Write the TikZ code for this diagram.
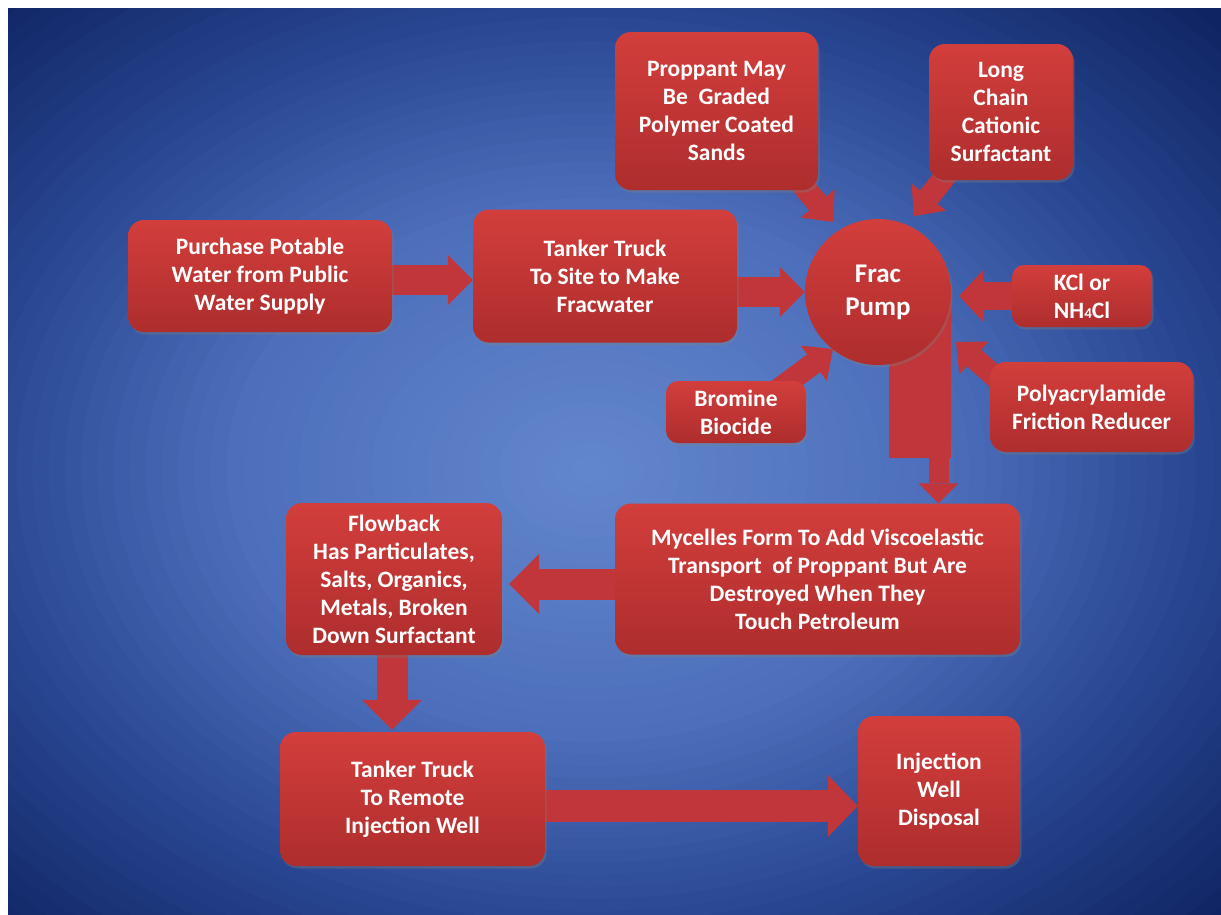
\documentclass[tikz,border=0pt]{standalone}
\usepackage{fontspec}
\setmainfont{Carlito}
\usetikzlibrary{arrows.meta,shadows,calc}
\definecolor{bgc0}{HTML}{6387CE}
\definecolor{bgc1}{HTML}{4D6FBB}
\definecolor{bgc2}{HTML}{2A4894}
\definecolor{bgc3}{HTML}{0F2462}
\definecolor{boxtop}{HTML}{D23E3C}
\definecolor{boxbot}{HTML}{AE2D2D}
\definecolor{arrred}{HTML}{C0363A}
\pgfdeclarelayer{bg}
\pgfdeclarelayer{arr}
\pgfsetlayers{bg,arr,main}
\tikzset{
  box/.style={rounded corners=16pt, top color=boxtop, bottom color=boxbot, draw=none,
    text=white, align=center, font=\fontsize{23.5}{28}\selectfont\bfseries, inner sep=0pt,
    drop shadow={shadow xshift=1.5pt, shadow yshift=-2.5pt, opacity=0.35}},
  blk/.style n args={3}{draw=arrred, line width=#1, -{Triangle[length=#3, width=#2, line width=0pt]}},
  harrow/.style={blk={30pt}{50pt}{25pt}},
  barrow/.style={blk={31pt}{60pt}{30pt}},
  darrow/.style={blk={22pt}{44pt}{24pt}},
  parrow/.style={blk={20pt}{40pt}{20pt}}
}
\begin{document}
\begin{tikzpicture}[x=1pt,y=-1pt]
\begin{pgfonlayer}{bg}
\fill[white] (0,0) rectangle (1221,914);
\begin{scope}
\clip (8,8) rectangle (1221,914);
\fill[bgc3] (8,8) rectangle (1221,914);
\foreach \k in {0,...,14}{
  \pgfmathsetmacro{\rr}{1.45-0.45*\k/15}
  \pgfmathtruncatemacro{\pp}{100*\k/15}
  \fill[bgc2!\pp!bgc3] (590,470) ellipse [x radius=606*\rr, y radius=453*\rr];
}
\foreach \k in {0,...,14}{
  \pgfmathsetmacro{\rr}{1.0-0.4*\k/15}
  \pgfmathtruncatemacro{\pp}{100*\k/15}
  \fill[bgc1!\pp!bgc2] (590,470) ellipse [x radius=606*\rr, y radius=453*\rr];
}
\foreach \k in {0,...,19}{
  \pgfmathsetmacro{\rr}{0.6-0.6*\k/20}
  \pgfmathtruncatemacro{\pp}{100*\k/20}
  \fill[bgc0!\pp!bgc1] (590,470) ellipse [x radius=606*\rr, y radius=453*\rr];
}
\end{scope}
\end{pgfonlayer}
\useasboundingbox (0,0) rectangle (1221,914);

\node[box, minimum width=264pt, minimum height=112pt] (n1) at (260,276) {Purchase Potable\\Water from Public\\Water Supply};
\node[box, minimum width=264pt, minimum height=133pt] (n2) at (605,276) {Tanker Truck\\To Site to Make\\Fracwater};
\node[box, minimum width=203pt, minimum height=158pt] (n3) at (716.5,111) {Proppant May\\Be\ \ Graded\\Polymer Coated\\Sands};
\node[box, minimum width=144pt, minimum height=136pt] (n4) at (1001,112) {Long\\Chain\\Cationic\\Surfactant};
\node[box, minimum width=140pt, minimum height=62pt, rounded corners=12pt] (n5) at (1082,296) {KCl or\\NH{\fontsize{15}{15}\selectfont 4}Cl};
\node[box, minimum width=203pt, minimum height=90pt] (n6) at (1091.5,407) {Polyacrylamide\\Friction Reducer};
\node[box, minimum width=140pt, minimum height=62pt, rounded corners=12pt] (n7) at (736,412) {Bromine\\Biocide};
\node[box, minimum width=405pt, minimum height=151pt] (n8) at (817.5,579) {Mycelles Form To Add Viscoelastic\\Transport\ \ of Proppant But Are\\Destroyed When They\\Touch Petroleum};
\node[box, minimum width=216pt, minimum height=152pt] (n9) at (394,579) {Flowback\\Has Particulates,\\Salts, Organics,\\Metals, Broken\\Down Surfactant};
\node[box, minimum width=265pt, minimum height=134pt] (n10) at (412.5,799) {Tanker Truck\\To Remote\\Injection Well};
\node[box, minimum width=162pt, minimum height=150pt] (n11) at (939,791) {Injection\\Well\\Disposal};
\node[circle, minimum size=146pt, inner sep=0pt, top color=boxtop, bottom color=boxbot,
  text=white, align=center, font=\fontsize{27}{33}\selectfont\bfseries,
  drop shadow={shadow xshift=1.5pt, shadow yshift=-2.5pt, opacity=0.35}] (pump) at (878,292) {Frac\\Pump};

\coordinate (t3) at (833,222);
\coordinate (t4) at (914,216);
\coordinate (t6) at (956,342);
\coordinate (t7) at (833,349);
\coordinate (tailb) at (938.5,458);

\begin{pgfonlayer}{arr}
\fill[arrred] (889,292) rectangle (951,458);
\draw[harrow] ([yshift=-4pt]n1.east) -- ([yshift=-4pt]n2.west);
\draw[harrow] ([yshift=-16pt]n2.east) -- (pump.west);
\draw[blk={28pt}{52pt}{24pt}] (n5.west) -- ([xshift=8pt,yshift=-4pt]pump.east);
\draw[darrow] ($(n3.south east)+(-28,-20)$) -- (t3);
\draw[darrow] ($(n4.south west)+(25,-15)$) -- (t4);
\draw[darrow] ($(n6.north west)+(20,28)$) -- (t6);
\draw[darrow] ($(n7.north east)+(-31,11)$) -- (t7);
\draw[parrow] (tailb) -- (tailb |- n8.north);
\draw[barrow] ([yshift=-5pt]n8.west) -- ([xshift=7pt,yshift=-5pt]n9.east);
\draw[barrow] ([xshift=-2pt]n9.south) -- ([xshift=-2pt,yshift=2pt]n9.south |- n10.north);
\draw[blk={32pt}{62pt}{30pt}] ([yshift=-7pt]n10.east) -- ([yshift=-7pt]n10.east -| n11.west);
\end{pgfonlayer}
\end{tikzpicture}
\end{document}
